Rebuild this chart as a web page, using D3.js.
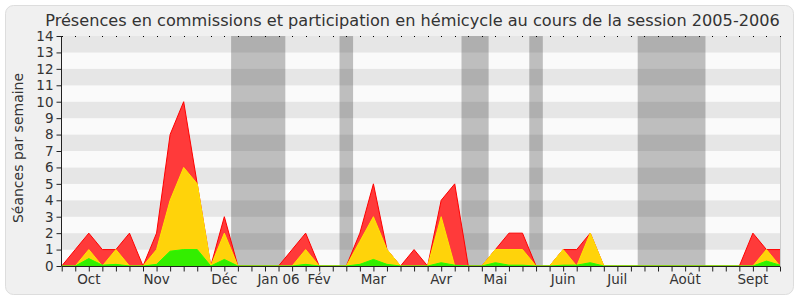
<!DOCTYPE html>
<html>
<head>
<meta charset="utf-8">
<script src="https://cdn.jsdelivr.net/npm/d3@7"></script>
<style>
  html, body { margin: 0; padding: 0; background: #ffffff; }
  svg { display: block; font-family: "DejaVu Sans", sans-serif; }
</style>
</head>
<body>
<svg id="chart" width="800" height="300"></svg>
<script>
// weekly values, one per week from late Sept 2005 to Sept 2006
const red = [0, 1, 2, 1, 1, 2, 0, 2, 8, 10, 5, 0, 3, 0, 0, 0, 0, 1, 2, 0,
             0, 0, 2, 5, 1, 0, 1, 0, 4, 5, 0, 0, 1, 2, 2, 0, 0, 1, 1, 2,
             0, 0, 0, 0, 0, 0, 0, 0, 0, 0, 0, 2, 1, 1];
const yellow = [0, 0, 1, 0, 1, 0, 0, 1, 4, 6, 5, 0, 2, 0, 0, 0, 0, 0, 1, 0,
                0, 0, 1.5, 3, 1, 0, 0, 0, 3, 0, 0, 0, 1, 1, 1, 0, 0, 1, 0, 2,
                0, 0, 0, 0, 0, 0, 0, 0, 0, 0, 0, 0, 1, 0];
const green = [0, 0, 0.45, 0.05, 0.1, 0, 0, 0.1, 0.9, 1, 1, 0, 0.4, 0, 0, 0, 0, 0, 0.1, 0,
               0, 0, 0.1, 0.4, 0.1, 0, 0, 0, 0.2, 0.05, 0, 0, 0.2, 0.05, 0.05, 0, 0, 0.05, 0.05, 0.2,
               0, 0, 0, 0, 0, 0, 0, 0, 0, 0, 0, 0, 0.3, 0.05];

// holiday periods, in week positions
const breaks = [[12.5, 16.5], [20.5, 21.5], [29.5, 31.5], [34.5, 35.5], [42.5, 47.5]];

const monthNames = ["Oct", "Nov", "Déc", "Jan 06", "Fév", "Mar", "Avr", "Mai", "Juin", "Juil", "Août", "Sept"];
const monthWeeks = [2, 7, 12, 16, 19, 23, 28, 32, 37, 41, 46, 51];

const yTicks = d3.range(0, 15);

const svg = d3.select("#chart");

const x = d3.scaleLinear().domain([0, red.length - 1]).range([61.7, 780]);
const y = d3.scaleLinear().domain([0, 14]).range([266, 36]);

// frame
svg.append("rect")
    .attr("x", 5.5).attr("y", 5.5)
    .attr("width", 788).attr("height", 289)
    .attr("rx", 8).attr("ry", 8)
    .attr("fill", "#f0f0f0")
    .attr("stroke", "#dddddd");

// stripes
svg.selectAll(".stripe")
    .data(d3.range(0, 14))
    .enter()
    .append("rect")
    .attr("x", x(0))
    .attr("y", d => y(d + 1))
    .attr("width", x.range()[1] - x(0))
    .attr("height", d => y(d) - y(d + 1))
    .attr("fill", d => d % 2 === 0 ? "#fafafa" : "#e6e6e6");

// holidays
svg.selectAll(".break")
    .data(breaks)
    .enter()
    .append("rect")
    .attr("x", d => x(d[0]))
    .attr("y", y(14))
    .attr("width", d => x(d[1]) - x(d[0]))
    .attr("height", y(0) - y(14))
    .attr("fill", "#000000")
    .attr("fill-opacity", 0.24);

// areas
const series = [
    { values: red, fill: "#ff3a3a", stroke: "#ff0000" },
    { values: yellow, fill: "#ffd30a", stroke: "#ffe600" },
    { values: green, fill: "#33ee00", stroke: "#22ff00" }
];

series.forEach(s => {
    const area = d3.area()
        .x((d, i) => x(i))
        .y0(y(0))
        .y1(d => y(d));
    const line = d3.line()
        .x((d, i) => x(i))
        .y(d => y(d));
    svg.append("path")
        .datum(s.values)
        .attr("d", area)
        .attr("fill", s.fill);
    svg.append("path")
        .datum(s.values)
        .attr("d", line)
        .attr("fill", "none")
        .attr("stroke", s.stroke)
        .attr("stroke-width", 1);
});

// right border
svg.append("line")
    .attr("x1", 780.5).attr("x2", 780.5)
    .attr("y1", y(14)).attr("y2", y(0))
    .attr("stroke", "#cccccc");

// top dots
svg.selectAll(".dot")
    .data(d3.range(0, red.length))
    .enter()
    .append("rect")
    .attr("x", d => Math.round(x(d)))
    .attr("y", y(14))
    .attr("width", 1)
    .attr("height", 1)
    .attr("fill", "#000000");

// y axis
const yAxis = svg.append("g")
    .attr("transform", "translate(61.5,0)")
    .call(d3.axisLeft(y).tickValues(yTicks).tickSize(5).tickPadding(3).tickFormat(d3.format("d")));
yAxis.select(".domain").attr("stroke", "#222").attr("d", `M0,${y(14)}V${y(0)}`);
yAxis.selectAll(".tick line").attr("stroke", "#222");
yAxis.selectAll("text")
    .attr("fill", "#333")
    .attr("font-size", "13.5px")
    .attr("font-family", "DejaVu Sans, sans-serif");

// x axis: one tick per week
const xAxis = svg.append("g")
    .attr("transform", `translate(0,${y(0) + 0.5})`)
    .call(d3.axisBottom(x).tickValues(d3.range(0, red.length)).tickSize(5).tickFormat(""));
xAxis.select(".domain").attr("stroke", "#222").attr("d", `M${x(0)},0H780`);
xAxis.selectAll(".tick line").attr("stroke", "#222");

svg.selectAll(".month")
    .data(monthNames)
    .enter()
    .append("text")
    .attr("x", (d, i) => x(monthWeeks[i]))
    .attr("y", 284)
    .attr("text-anchor", "middle")
    .attr("fill", "#333")
    .attr("font-size", "13.5px")
    .text(d => d);

// y title
svg.append("text")
    .attr("transform", "translate(23,148) rotate(-90)")
    .attr("text-anchor", "middle")
    .attr("fill", "#333")
    .attr("font-size", "14px")
    .text("Séances par semaine");

// title
const title = svg.append("text")
    .attr("x", 412.5)
    .attr("y", 26)
    .attr("text-anchor", "middle")
    .attr("fill", "#333")
    .attr("font-size", "16px")
    .text("Présences en commissions et participation en hémicycle au cours de la session 2005-2006");
const tw = title.node().getComputedTextLength();
title.attr("font-size", (16 * 735 / tw).toFixed(2) + "px");
</script>
</body>
</html>
